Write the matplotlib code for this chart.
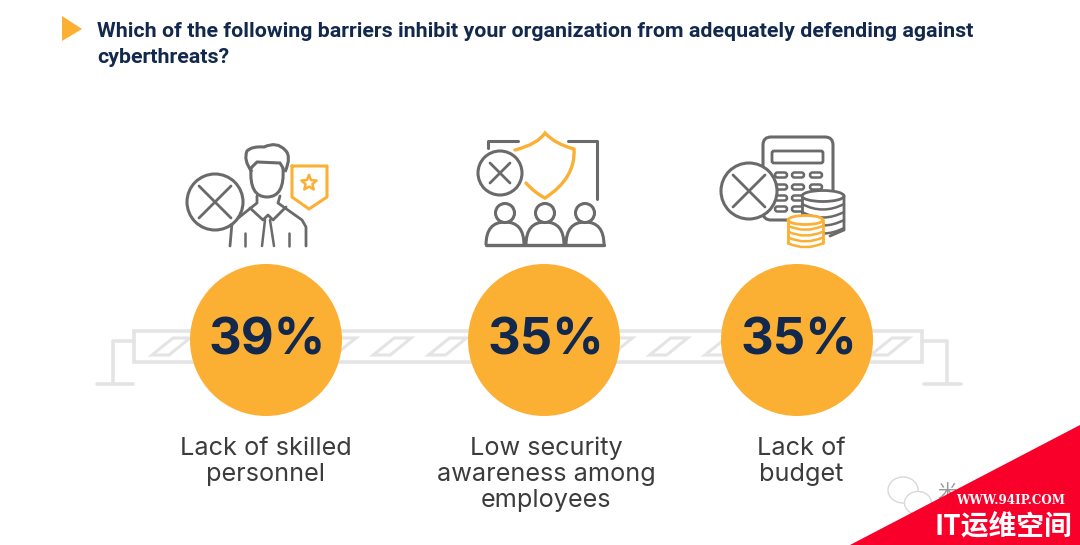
import matplotlib
matplotlib.use("Agg")
import matplotlib.pyplot as plt
import numpy as np
from matplotlib.patches import Circle, Polygon, Rectangle, FancyBboxPatch, Ellipse, PathPatch
from matplotlib.path import Path

title_lines = ["Which of the following barriers inhibit your organization from adequately defending against", "cyberthreats?"]
values = [39, 35, 35]
labels = ["Lack of skilled\npersonnel", "Low security\nawareness among\nemployees", "Lack of\nbudget"]
watermark_url = "WWW.94IP.COM"
watermark_name = "IT运维空间"

ORANGE = "#FBB034"
NAVY = "#12284C"
GREY = "#6A6A6A"
BARRIER = "#E4E4E4"
TEXT = "#3C3C3C"

fig = plt.figure(figsize=(10.8, 5.45), dpi=100)
ax = fig.add_axes([0, 0, 1, 1])
ax.set_xlim(0, 1080)
ax.set_ylim(545, 0)
ax.axis("off")

def line(pts, c=GREY, lw=2.0, z=3):
    xs, ys = zip(*pts)
    ax.plot(xs, ys, color=c, lw=lw, solid_capstyle="round", solid_joinstyle="round", zorder=z)

def curve(pts, c=GREY, lw=2.0, z=3, fill="none"):
    codes = [Path.MOVETO] + [Path.CURVE3] * (len(pts) - 1)
    ax.add_patch(PathPatch(Path(pts, codes), fc=fill, ec=c, lw=lw, zorder=z, capstyle="round"))

def xcircle(x, y, r, k, z=4):
    ax.add_patch(Circle((x, y), r, fc="white", ec=GREY, lw=2.2, zorder=z))
    line([(x - k, y - k), (x + k, y + k)], lw=2.0, z=z + 1)
    line([(x - k, y + k), (x + k, y - k)], lw=2.0, z=z + 1)

# Header
ax.add_patch(Polygon([(62, 16), (82, 29), (62, 41)], fc=ORANGE, ec="none"))
for txt, y in zip(title_lines, [37, 63]):
    ax.text(97, y, txt, family="Roboto", weight="bold",
            fontsize=15.4, color=NAVY, va="baseline", ha="left")

# Barrier
ax.add_patch(Rectangle((134, 331), 788, 31, fc="none", ec=BARRIER, lw=2.6, zorder=1))
line([(134, 341), (113, 341), (113, 384)], c=BARRIER, lw=2.6, z=1)
line([(97, 384), (133, 384)], c=BARRIER, lw=2.6, z=1)
line([(922, 341), (947, 341), (947, 384)], c=BARRIER, lw=2.6, z=1)
line([(924, 384), (961, 384)], c=BARRIER, lw=2.6, z=1)
for i in range(14):
    x = 152 + i * 55.3
    ax.add_patch(Polygon([(x, 355), (x + 21, 338), (x + 38, 338), (x + 17, 355)],
                         fc="none", ec=BARRIER, lw=2.2, zorder=1))

# Circles, values and labels
centers = [266, 544, 797]
label_shift = [0, 2, 4]
for cx, v, lab, dx in zip(centers, values, labels, label_shift):
    ax.add_patch(Circle((cx, 340), 76, fc=ORANGE, ec="none", zorder=2))
    ax.text(cx + 1.5, 336, f"{v}%", family="Inter", weight="bold", fontsize=36.5, color=NAVY,
            ha="center", va="center_baseline", zorder=3)
    ax.text(cx + dx, 437, lab, family="Inter", fontsize=18.2, color=TEXT, ha="center", va="top",
            linespacing=1.155, zorder=3)

# Person icon
ax.add_patch(PathPatch(Path(
    [(252, 172), (243, 160), (247, 151), (252, 146), (264, 147), (277, 141), (285, 150), (292, 156), (285, 172)],
    [Path.MOVETO, Path.CURVE3, Path.CURVE3, Path.CURVE3, Path.CURVE3, Path.CURVE3, Path.CURVE3, Path.CURVE3, Path.CURVE3]),
    fc="none", ec=GREY, lw=2.2, zorder=3))
ax.add_patch(PathPatch(Path(
    [(251, 168), (249, 197), (267, 197), (285, 197), (283, 168)],
    [Path.MOVETO, Path.CURVE3, Path.CURVE3, Path.CURVE3, Path.CURVE3]),
    fc="none", ec=GREY, lw=2.2, zorder=3))
line([(251, 168), (257, 162), (280, 163), (283, 168)], lw=2.2)
line([(257, 196), (257, 203), (232, 223), (230, 246)])
line([(280, 196), (278, 203), (302, 220), (306, 227), (306, 246)])
line([(250, 208), (263, 220), (268, 215), (273, 220), (286, 207)])
line([(265, 220), (262, 246)], lw=1.8)
line([(270, 220), (274, 246)], lw=1.8)
line([(245, 233), (245, 246)], lw=1.8)
line([(289, 233), (289, 246)], lw=1.8)
xcircle(215, 202, 28, 16)
line([(292, 166), (327, 166), (327, 197), (309, 209), (292, 197), (292, 166)], c=ORANGE, lw=2.2)
ang = np.deg2rad(np.arange(11) * 36.0 - 90)
star_r = np.where(np.arange(11) % 2 == 0, 8, 3.6)
line(list(zip(309 + star_r * np.cos(ang), 183 + star_r * np.sin(ang))), c=ORANGE, lw=1.8)

# Awareness icon
line([(488, 148), (488, 141), (518, 141)], lw=2.2)
line([(568, 141), (597, 141), (597, 199)], lw=2.2)
curve([(515, 150), (538, 144), (545, 133), (555, 144), (574, 149), (576, 178), (545, 198)], c=ORANGE, lw=2.4)
curve([(545, 198), (535, 193), (526, 183)], c=ORANGE, lw=2.4)
xcircle(500, 173, 22, 10)
for hx in [505, 545, 585]:
    ax.add_patch(Circle((hx, 213), 9.5, fc="white", ec=GREY, lw=2.2, zorder=3))
    ax.add_patch(PathPatch(Path([(hx - 19, 245), (hx - 19, 222), (hx, 222), (hx + 19, 222), (hx + 19, 245)],
                                [Path.MOVETO, Path.CURVE3, Path.CURVE3, Path.CURVE3, Path.CURVE3]),
                           fc="white", ec=GREY, lw=2.2, zorder=2.9))
line([(486, 245), (604, 245)], lw=2.4, z=3.1)

# Budget icon
ax.add_patch(FancyBboxPatch((763, 137), 70, 83, boxstyle="round,pad=0,rounding_size=8", fc="white", ec=GREY, lw=2.2, zorder=2))
ax.add_patch(FancyBboxPatch((772, 151), 51, 12, boxstyle="round,pad=0,rounding_size=2", fc="none", ec=GREY, lw=2, zorder=3))
for ry in [175, 187, 198, 209]:
    for rx in [775, 792, 810]:
        ax.add_patch(FancyBboxPatch((rx, ry - 2.5), 12, 5, boxstyle="round,pad=0,rounding_size=2.5", fc="none", ec=GREY, lw=1.8, zorder=3))
ax.add_patch(Rectangle((802, 196), 42, 40, fc="white", ec="none", zorder=3.2))
ax.add_patch(Ellipse((823, 196), 42, 11, fc="white", ec=GREY, lw=2, zorder=3.6))
line([(802, 196), (802, 218)], z=3.4)
line([(844, 196), (844, 230), (830, 236)], z=3.4)
for i in range(1, 5):
    yy = 196 + i * 8
    curve([(802, yy), (823, yy + 11), (844, yy)], lw=1.8, z=3.4)
xcircle(749, 191, 28, 16, z=4)
ax.add_patch(Rectangle((788, 218), 35, 28, fc="white", ec="none", zorder=4.5))
ax.add_patch(Ellipse((805.5, 220), 35, 9, fc="white", ec=ORANGE, lw=2, zorder=5))
line([(788, 220), (788, 243)], c=ORANGE, z=4.8)
line([(823, 220), (823, 243)], c=ORANGE, z=4.8)
for i in range(1, 5):
    yy = 220 + i * 5.8
    curve([(788, yy), (805.5, yy + 8), (823, yy)], c=ORANGE, lw=1.8, z=4.8)

# Watermark
for (ex, ey, ew, eh) in [(903, 490, 30, 26), (918, 503, 27, 23)]:
    ax.add_patch(Ellipse((ex, ey), ew, eh, fc="white", ec="#D8D8D8", lw=1.0, zorder=5))
ax.text(947, 492, "米", family=["Noto Sans CJK SC"], fontsize=14, color="#9A9A9A", ha="center", va="center", zorder=5)
ax.add_patch(Polygon([(850, 545), (1080, 425), (1080, 545)], fc="#F9002B", ec="none", zorder=6))
ax.text(1011, 501, watermark_url, family="DejaVu Serif", weight="bold", fontsize=8.6, color="white",
        ha="center", va="center", zorder=7)
ax.text(1003, 526, watermark_name, family=["Noto Sans CJK SC", "DejaVu Sans"], weight="bold", fontsize=20,
        color="white", ha="center", va="center", zorder=7)

fig.savefig("out.png", dpi=100, facecolor="white")
